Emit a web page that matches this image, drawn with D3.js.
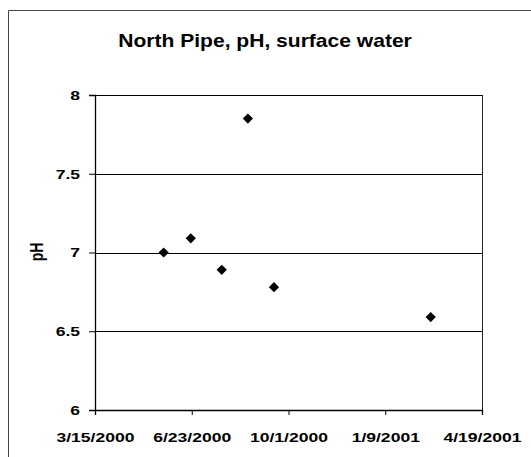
<!DOCTYPE html>
<html>
<head>
<meta charset="utf-8">
<script src="https://cdn.jsdelivr.net/npm/d3@7"></script>
<style>
  body { margin: 0; background: #fff; }
  svg { display: block; font-family: "Liberation Sans", Arial, sans-serif; }
</style>
</head>
<body>
<svg id="chart" width="531" height="457"></svg>
<script>
// sample dates and pH readings
var sampleDates = ["2000-05-25", "2000-06-22", "2000-07-24", "2000-08-20", "2000-09-16", "2001-02-25"];
var phValues = [7.0, 7.09, 6.89, 7.85, 6.78, 6.59];

// axis ticks, every 100 days like the original
var xTickLabels = ["3/15/2000", "6/23/2000", "10/1/2000", "1/9/2001", "4/19/2001"];
var yTickValues = [6, 6.5, 7, 7.5, 8];

var parseDate = d3.utcParse("%Y-%m-%d");
var parseTick = d3.utcParse("%-m/%-d/%Y");
var formatTick = d3.utcFormat("%-m/%-d/%Y");

var data = sampleDates.map(function(d, i) {
  return { date: parseDate(d), ph: phValues[i] };
});
var xTicks = xTickLabels.map(function(t) { return parseTick(t); });

var svg = d3.select("#chart");

// the scanned picture is stretched sideways, so text gets a x-scale
var titleStretch = 1.17, tickStretch = 1.3;

// outer chart frame (only top and left edges are in view)
svg.append("path")
    .attr("d", "M8.5,457 V10.5 H531")
    .attr("fill", "none")
    .attr("stroke", "#444")
    .attr("stroke-width", 1);

var plot = { left: 95, right: 482, top: 95, bottom: 410 };

var x = d3.scaleUtc()
    .domain([xTicks[0], xTicks[xTicks.length - 1]])
    .range([plot.left, plot.right]);

var y = d3.scaleLinear()
    .domain([6, 8])
    .range([plot.bottom, plot.top]);

// horizontal gridlines
svg.append("g")
  .selectAll("line")
  .data(yTickValues)
  .enter()
  .append("line")
    .attr("x1", plot.left)
    .attr("x2", plot.right)
    .attr("y1", function(d) { return Math.round(y(d)) + 0.5; })
    .attr("y2", function(d) { return Math.round(y(d)) + 0.5; })
    .attr("stroke", "#000")
    .attr("stroke-width", 1);

// right edge of the plot area
svg.append("line")
    .attr("x1", plot.right + 0.5)
    .attr("x2", plot.right + 0.5)
    .attr("y1", plot.top)
    .attr("y2", plot.bottom)
    .attr("stroke", "#222");

// x axis
var xAxis = svg.append("g")
    .attr("transform", "translate(0," + plot.bottom + ")")
    .call(d3.axisBottom(x).tickValues(xTicks).tickFormat(formatTick).tickSize(5).tickPadding(17));
xAxis.select(".domain").attr("stroke", "#000").attr("stroke-width", 1.3);
xAxis.selectAll("text")
    .attr("fill", "#000")
    .attr("font-size", "13.5px")
    .attr("font-weight", "bold")
    .attr("font-family", "Liberation Sans, Arial, sans-serif")
    .attr("transform", "scale(" + tickStretch + ",1)");

// y axis
var yAxis = svg.append("g")
    .attr("transform", "translate(" + plot.left + ",0)")
    .call(d3.axisLeft(y).tickValues(yTickValues).tickFormat(d3.format("~g")).tickSize(6).tickPadding(11));
yAxis.select(".domain").attr("stroke", "#000").attr("stroke-width", 1.3);
yAxis.selectAll("text")
    .attr("fill", "#000")
    .attr("font-size", "13.5px")
    .attr("font-weight", "bold")
    .attr("font-family", "Liberation Sans, Arial, sans-serif")
    .attr("x", -15 / tickStretch)
    .attr("transform", "scale(" + tickStretch + ",1)");

// y axis title
svg.append("text")
    .attr("transform", "translate(37,252) scale(" + tickStretch + ",1) rotate(-90)")
    .attr("text-anchor", "middle")
    .attr("dy", "0.35em")
    .attr("font-size", "14px")
    .attr("font-weight", "bold")
    .text("pH");

// chart title
svg.append("text")
    .attr("transform", "translate(265,47) scale(" + titleStretch + ",1)")
    .attr("text-anchor", "middle")
    .attr("font-size", "18px")
    .attr("font-weight", "bold")
    .text("North Pipe, pH, surface water");

// diamond markers
var diamond = d3.symbol().type(d3.symbolSquare).size(52);
svg.append("g")
  .selectAll("path")
  .data(data)
  .enter()
  .append("path")
    .attr("d", diamond)
    .attr("transform", function(d) {
      return "translate(" + x(d.date) + "," + y(d.ph) + ") rotate(45)";
    })
    .attr("fill", "#000");
</script>
</body>
</html>
